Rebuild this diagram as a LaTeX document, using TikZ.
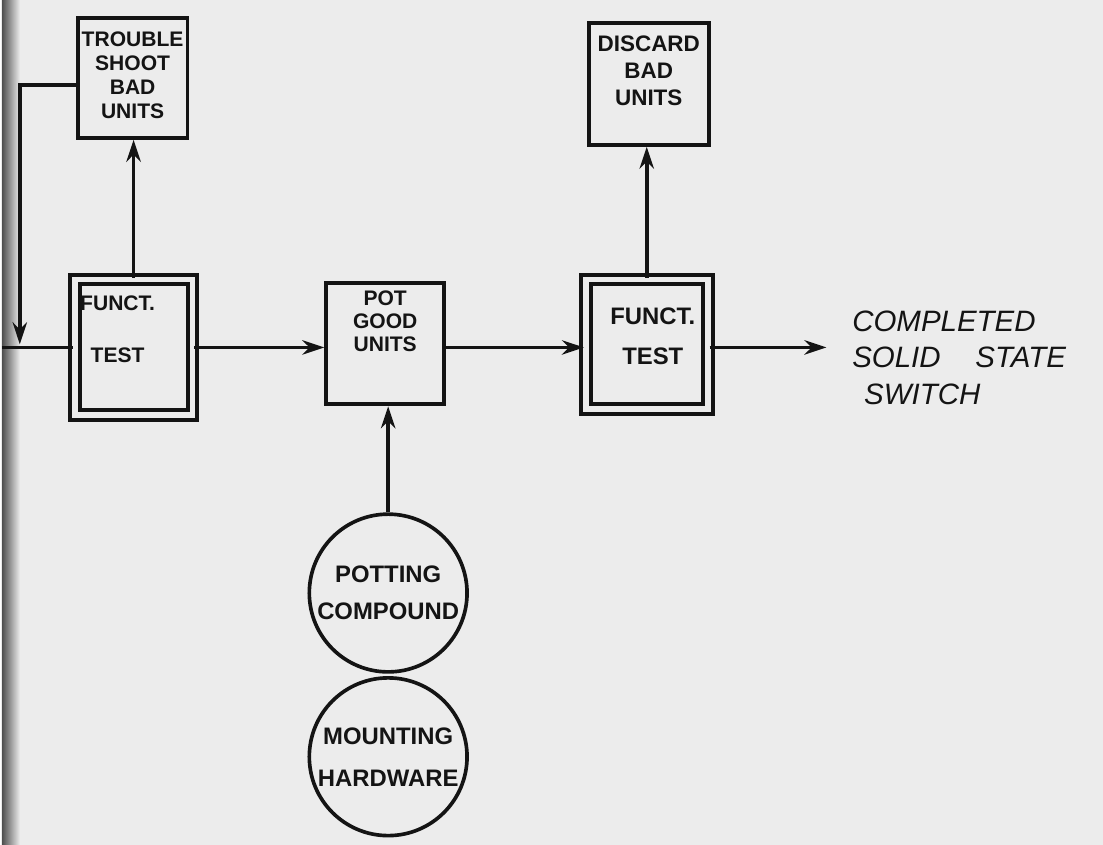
\documentclass[tikz,border=0pt]{standalone}
\usepackage{fontspec}
\setmainfont{Liberation Sans}
\usetikzlibrary{arrows.meta, positioning, calc}
\definecolor{paper}{RGB}{236,236,236}
\definecolor{ink}{RGB}{20,20,20}

\begin{document}
\begin{tikzpicture}[ink, line width=2.6pt, >={Stealth[length=5.5mm,width=3.6mm]},
    box/.style={draw, line width=2.8pt, inner sep=0pt},
    dbox/.style={box, double=paper, double distance=4.2pt},
    blob/.style={draw, circle, line width=2.6pt, minimum size=3.95cm, inner sep=0pt, align=center},
    lbl/.style={anchor=north, inner sep=0pt, align=center}]
        % scanned sheet
        \fill[paper] (0,0) rectangle (27.575,-21.15);
        \shade[left color=black!70, right color=paper] (0,0) rectangle (0.45,-21.15);

        % upper boxes
        \node[box, minimum width=2.75cm, minimum height=3.0cm] (trouble) at (3.275,-1.95) {};
        \node[box, minimum width=3.0cm, minimum height=3.05cm] (discard) at (16.2,-2.1) {};
        \node[lbl, font=\fontsize{15}{17}\selectfont\bfseries, below=0.35cm of trouble.north] (troubletxt) {TROUBLE\\SHOOT\\BAD\\UNITS};
        \node[lbl, font=\fontsize{16}{19}\selectfont\bfseries, below=0.33cm of discard.north] (discardtxt) {DISCARD\\BAD\\UNITS};

        % main line
        \node[dbox, minimum width=2.95cm, minimum height=3.4cm] (ft1) at (3.3,-8.7) {};
        \node[box, minimum width=2.95cm, minimum height=3.05cm] (pot) at (9.6,-8.6) {};
        \node[dbox, minimum width=3.05cm, minimum height=3.25cm] (ft2) at (16.15,-8.625) {};
        \node[lbl, font=\fontsize{15}{37}\selectfont\bfseries] (ft1txt) at ($(ft1.north)+(-0.4,-0.4)$) {FUNCT.\\TEST};
        \node[lbl, font=\fontsize{15}{16.5}\selectfont\bfseries, below=0.2cm of pot.north] (pottxt) {POT\\GOOD\\UNITS};
        \node[lbl, font=\fontsize{17}{28}\selectfont\bfseries] (ft2txt) at ($(ft2.north)+(0.15,-0.72)$) {FUNCT.\\TEST};

        % inputs below
        \node[blob, font=\fontsize{17}{26}\selectfont\bfseries] (pcomp) at (9.675,-14.85) {POTTING\\COMPOUND};
        \node[blob, font=\fontsize{17}{30}\selectfont\bfseries] (mhard) at (9.675,-18.95) {MOUNTING\\HARDWARE};

        % result
        \coordinate (in) at (0,-8.7);
        \coordinate (fb) at (0.45,-8.62);
        \coordinate (out) at (20.65,-8.7);
        \node[anchor=west, align=left, inner sep=0pt, font=\fontsize{21}{26}\selectfont\itshape] (done) at (21.25,-8.95)
            {COMPLETED\\SOLID\hspace{0.9em} STATE\\\hspace{0.3cm}SWITCH};

        % arrows
        \draw (in) -- (ft1.west);
        \draw[->] ([yshift=-0.175cm]trouble.west) -| (fb);
        \draw[->] (ft1.north) -- (ft1.north |- trouble.south);
        \draw[->] (ft1.east) -- (ft1.east -| pot.west);
        \draw[->] (pot.east |- ft1) -- (ft2.west |- ft1);
        \draw[->] (ft2.north) -- (ft2.north |- discard.south);
        \draw[->] (ft2.east |- ft1) -- (out);
        \draw[->] (pcomp.north) -- (pcomp.north |- pot.south);
    \end{tikzpicture}
\end{document}
